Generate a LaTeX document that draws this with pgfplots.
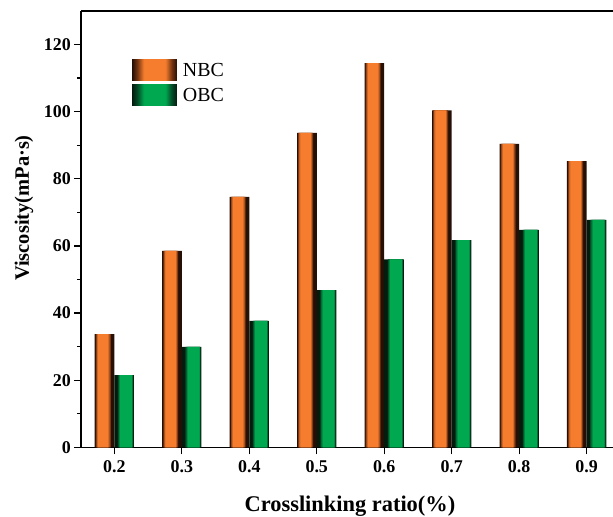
\documentclass[border=0pt]{standalone}
\usepackage{fontspec}
\setmainfont{Liberation Serif}
\usepackage{pgfplots}
\pgfplotsset{compat=1.18}
\definecolor{oB}{RGB}{245,125,45}
\definecolor{oM2}{RGB}{200,98,36}
\definecolor{oM1}{RGB}{120,55,18}
\definecolor{oD}{RGB}{38,15,5}
\definecolor{gB}{RGB}{0,168,80}
\definecolor{gM2}{RGB}{2,128,62}
\definecolor{gM1}{RGB}{3,78,40}
\definecolor{gD}{RGB}{4,28,14}
\pgfdeclarehorizontalshading{legO}{100bp}{color(0bp)=(oD); color(25bp)=(oD); color(31bp)=(oM1); color(38bp)=(oB); color(62bp)=(oB); color(69bp)=(oM1); color(75bp)=(oD); color(100bp)=(oD)}
\pgfdeclarehorizontalshading{legG}{100bp}{color(0bp)=(gD); color(25bp)=(gD); color(31bp)=(gM1); color(38bp)=(gB); color(62bp)=(gB); color(69bp)=(gM1); color(75bp)=(gD); color(100bp)=(gD)}
\pgfplotsset{
  layer/.style n args={3}{ybar, bar width=#1, bar shift=#2, fill=#3, draw=none},
  legbox/.style={legend image code/.code={\path[shading=#1] (0bp,-10.4bp) rectangle (44.7bp,11.3bp);}},
}
\pgfplotstableread{
x    nbc    obc
0.2  33.7   21.5
0.3  58.5   29.9
0.4  74.6   37.7
0.5  93.7   46.8
0.6  114.5  56.0
0.7  100.4  61.7
0.8  90.4   64.8
0.9  85.3   67.8
}\datatable
\begin{document}
\begin{tikzpicture}
\begin{axis}[
  name=ax,
  scale only axis,
  width=531.7bp, height=436.3bp,
  xmin=0.1511, xmax=0.939,
  ymin=0, ymax=130,
  axis x line*=box, axis y line*=left,
  xtick pos=bottom,
  axis line style={line width=1.6bp, black},
  tick align=outside,
  major tick length=7bp, minor tick length=4bp,
  every tick/.style={line width=1.3bp, black},
  xtick={0.2,0.3,0.4,0.5,0.6,0.7,0.8,0.9},
  xticklabels={0.2,0.3,0.4,0.5,0.6,0.7,0.8,0.9},
  ytick={0,20,40,60,80,100,120},
  minor y tick num=1,
  /pgf/number format/assume math mode=true,
  ticklabel style={font=\fontsize{18}{21}\selectfont\bfseries},
  xticklabel style={yshift=-3bp},
  xlabel={Crosslinking ratio(\%)},
  ylabel={Viscosity(mPa·s)},
  xlabel style={font=\fontsize{22.5}{26}\selectfont\bfseries, at={(rel axis cs:0.5053,0)}, anchor=base, yshift=-63.7bp},
  ylabel style={font=\fontsize{20.5}{24}\selectfont\bfseries, at={(rel axis cs:-0.1078,0.5485)}, anchor=center},
  legend style={at={(rel axis cs:0,1)}, anchor=north west, xshift=50.7bp, yshift=-48bp,
    draw=none, fill=none, inner sep=0pt, row sep=3.3bp, column sep=6bp,
    font=\fontsize{20}{24}\selectfont, nodes={inner sep=0pt}},
  legend cell align=left,
]
% NBC layers (dark -> bright)
\addplot[layer={19.7bp}{-9.85bp}{oD}, legbox=legO] table[x=x,y=nbc] {\datatable};
% OBC base layer
\addplot[layer={19.7bp}{9.85bp}{gD}, legbox=legG] table[x=x,y=obc] {\datatable};
\addplot[layer={14.97bp}{-11.03bp}{oM1}, forget plot] table[x=x,y=nbc] {\datatable};
\addplot[layer={12.8bp}{-11.13bp}{oM2}, forget plot] table[x=x,y=nbc] {\datatable};
\addplot[layer={10.44bp}{-11.13bp}{oB}, forget plot] table[x=x,y=nbc] {\datatable};
\addplot[layer={15.17bp}{11.13bp}{gM1}, forget plot] table[x=x,y=obc] {\datatable};
\addplot[layer={13.59bp}{11.52bp}{gM2}, forget plot] table[x=x,y=obc] {\datatable};
\addplot[layer={11.82bp}{11.82bp}{gB}, forget plot] table[x=x,y=obc] {\datatable};
\legend{NBC,OBC}
\end{axis}
\pgfresetboundingbox
\path ([shift={(-81.3bp,-69.7bp)}]ax.south west) rectangle ([shift={(0bp,11bp)}]ax.north east);
\end{tikzpicture}
\end{document}
